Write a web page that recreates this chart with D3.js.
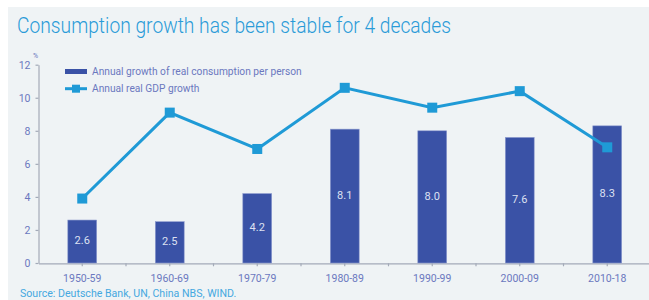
<!DOCTYPE html>
<html>
<head>
<meta charset="utf-8">
<script src="https://cdn.jsdelivr.net/npm/d3@7"></script>
<style>
  body { margin: 0; background: #fff; }
  svg { display: block; }
</style>
</head>
<body>
<div id="chart"></div>
<script>
const decades = ["1950-59", "1960-69", "1970-79", "1980-89", "1990-99", "2000-09", "2010-18"];
const consumption = [2.6, 2.5, 4.2, 8.1, 8.0, 7.6, 8.3];
const gdp = [3.9, 9.1, 6.9, 10.6, 9.4, 10.4, 7.0];
const yTicks = [0, 2, 4, 6, 8, 10, 12];

const W = 649, H = 300;
const svg = d3.select("#chart").append("svg")
              .attr("width", W)
              .attr("height", H);

svg.append("rect")
   .attr("x", 8).attr("y", 7)
   .attr("width", W - 8).attr("height", H - 7)
   .attr("fill", "#eff3f5");

svg.append("text")
   .text("Consumption growth has been stable for 4 decades")
   .attr("x", 17).attr("y", 33)
   .attr("textLength", 434)
   .attr("lengthAdjust", "spacingAndGlyphs")
   .style("font-family", "Roboto, sans-serif")
   .style("font-weight", 300)
   .style("font-size", "22px")
   .attr("fill", "#2a9bd8");

const xScale = d3.scaleBand()
                 .domain(decades)
                 .range([38.5, 651]);

const yScale = d3.scaleLinear()
                 .domain([0, 12])
                 .range([263, 64.7]);

const axisColor = "#a3aab8";
const labelColor = "#6b78bf";

// y axis
const yAxis = svg.append("g")
                 .attr("transform", "translate(38.5,0)")
                 .call(d3.axisLeft(yScale).tickValues(yTicks).tickSize(3).tickSizeOuter(0));
yAxis.selectAll("path, line").attr("stroke", axisColor).attr("stroke-width", 1.2);
yAxis.selectAll("text")
     .attr("fill", labelColor)
     .attr("x", -8)
     .style("font-family", "Roboto, sans-serif")
     .style("font-size", "10.5px");

svg.append("text")
   .text("%")
   .attr("x", 33).attr("y", 58)
   .style("font-family", "Roboto, sans-serif")
   .style("font-size", "7px")
   .attr("fill", labelColor);

// x axis
const xAxis = svg.append("g")
                 .attr("transform", "translate(0,263.3)")
                 .call(d3.axisBottom(xScale).tickSize(3).tickSizeOuter(0));
xAxis.selectAll("path, line").attr("stroke", axisColor).attr("stroke-width", 1.2);
xAxis.selectAll("text")
     .attr("fill", labelColor)
     .attr("y", 11)
     .style("font-family", "Roboto, sans-serif")
     .style("font-size", "10.5px");

xAxis.selectAll(".bound")
     .data(decades.slice(1))
     .join("line")
     .attr("class", "bound")
     .attr("x1", d => xScale(d)).attr("x2", d => xScale(d))
     .attr("y1", 0).attr("y2", 3)
     .attr("stroke", axisColor)
     .attr("stroke-width", 1.2);

// bars
const barW = xScale.bandwidth() * 0.33;
const bars = svg.selectAll(".bar")
                .data(decades)
                .join("g")
                .attr("class", "bar");

bars.append("rect")
    .attr("x", d => xScale(d) + (xScale.bandwidth() - barW) / 2)
    .attr("y", (d, i) => yScale(consumption[i]))
    .attr("width", barW)
    .attr("height", (d, i) => yScale(0) - yScale(consumption[i]))
    .attr("fill", "#3a52a6")
    .attr("stroke", "#8e9bcf")
    .attr("stroke-width", 0.6);

bars.append("text")
    .text((d, i) => consumption[i].toFixed(1))
    .attr("x", d => xScale(d) + xScale.bandwidth() / 2)
    .attr("y", (d, i) => (yScale(consumption[i]) + yScale(0)) / 2)
    .attr("text-anchor", "middle")
    .style("dominant-baseline", "middle")
    .style("font-family", "Roboto, sans-serif")
    .style("font-size", "11px")
    .attr("fill", "#dde1f2");

// GDP line
const line = d3.line()
               .x((d, i) => xScale(decades[i]) + xScale.bandwidth() / 2)
               .y(d => yScale(d));

svg.append("path")
   .datum(gdp)
   .attr("d", line)
   .attr("fill", "none")
   .attr("stroke", "#1f9ad6")
   .attr("stroke-width", 3);

svg.selectAll(".mark")
   .data(gdp)
   .join("rect")
   .attr("class", "mark")
   .attr("x", (d, i) => xScale(decades[i]) + xScale.bandwidth() / 2 - 5)
   .attr("y", d => yScale(d) - 5)
   .attr("width", 10)
   .attr("height", 10)
   .attr("fill", "#1f9ad6");

// legend
const legend = svg.append("g");
legend.append("rect")
      .attr("x", 65).attr("y", 69)
      .attr("width", 22).attr("height", 5)
      .attr("fill", "#3a52a6");
legend.append("text")
      .text("Annual growth of real consumption per person")
      .attr("x", 92).attr("y", 75)
      .style("font-family", "Roboto, sans-serif")
      .style("font-size", "10.2px")
      .attr("fill", labelColor);
legend.append("line")
      .attr("x1", 65).attr("x2", 87)
      .attr("y1", 88.7).attr("y2", 88.7)
      .attr("stroke", "#1f9ad6")
      .attr("stroke-width", 3);
legend.append("rect")
      .attr("x", 72).attr("y", 84.7)
      .attr("width", 8).attr("height", 8)
      .attr("fill", "#1f9ad6");
legend.append("text")
      .text("Annual real GDP growth")
      .attr("x", 92).attr("y", 92)
      .style("font-family", "Roboto, sans-serif")
      .style("font-size", "10.2px")
      .attr("fill", labelColor);

svg.append("text")
   .text("Source: Deutsche Bank, UN, China NBS, WIND.")
   .attr("x", 20).attr("y", 297)
   .style("font-family", "Roboto, sans-serif")
   .style("font-size", "10.6px")
   .attr("fill", "#45a8e0");
</script>
</body>
</html>
